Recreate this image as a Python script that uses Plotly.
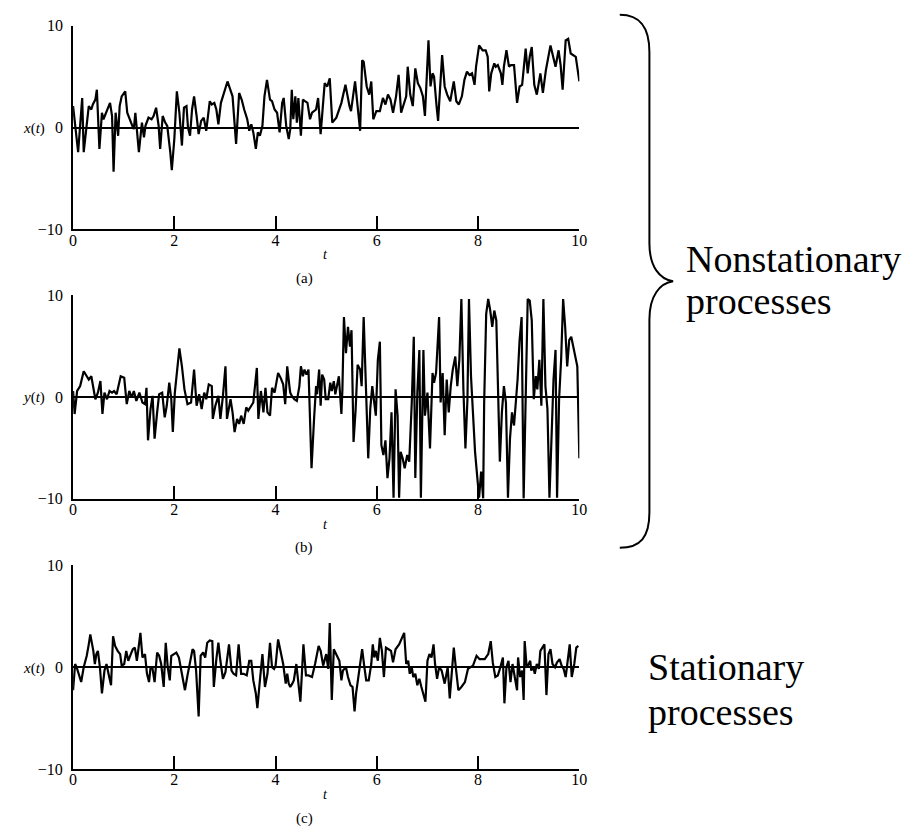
import plotly.graph_objects as go

# ---------------- data ----------------
# (a) nonstationary in the mean: x(t)
t_a = [0.00, 0.10, 0.18, 0.21, 0.26, 0.31, 0.36, 0.39, 0.44, 0.47, 0.52, 0.57, 0.60, 0.64, 0.68,
       0.73, 0.77, 0.80, 0.84, 0.89, 0.92, 0.96, 1.03, 1.07, 1.17, 1.20, 1.23, 1.30, 1.36, 1.40,
       1.43, 1.49, 1.55, 1.59, 1.64, 1.69, 1.72, 1.77, 1.82, 1.86, 1.92, 1.95, 2.00, 2.05, 2.10,
       2.15, 2.19, 2.24, 2.27, 2.31, 2.35, 2.39, 2.44, 2.48, 2.53, 2.58, 2.63, 2.70, 2.74, 2.79,
       2.83, 2.87, 2.92, 2.99, 3.05, 3.15, 3.22, 3.28, 3.33, 3.38, 3.44, 3.48, 3.52, 3.56, 3.61,
       3.65, 3.69, 3.74, 3.78, 3.83, 3.89, 3.93, 3.98, 4.03, 4.08, 4.13, 4.16, 4.21, 4.26, 4.29,
       4.32, 4.35, 4.39, 4.42, 4.45, 4.50, 4.54, 4.58, 4.63, 4.68, 4.72, 4.80, 4.84, 4.89, 4.94,
       4.97, 5.02, 5.07, 5.12, 5.20, 5.30, 5.38, 5.46, 5.49, 5.57, 5.62, 5.67, 5.71, 5.74, 5.80,
       5.85, 5.89, 5.93, 5.99, 6.06, 6.12, 6.17, 6.22, 6.27, 6.32, 6.38, 6.43, 6.48, 6.53, 6.58,
       6.61, 6.66, 6.71, 6.76, 6.81, 6.86, 6.91, 6.95, 7.02, 7.06, 7.10, 7.13, 7.18, 7.21, 7.29,
       7.34, 7.39, 7.45, 7.52, 7.57, 7.62, 7.68, 7.73, 7.78, 7.83, 7.88, 7.93, 7.96, 8.02, 8.09,
       8.15, 8.19, 8.22, 8.26, 8.32, 8.35, 8.39, 8.45, 8.48, 8.51, 8.56, 8.61, 8.65, 8.71, 8.77,
       8.82, 8.87, 8.94, 8.98, 9.02, 9.06, 9.11, 9.16, 9.23, 9.28, 9.34, 9.43, 9.49, 9.53, 9.59,
       9.63, 9.67, 9.73, 9.78, 9.83, 9.93, 10.00]
x_a = [2.10, -2.42, 2.90, -2.42, -0.16, 2.10, 1.77, 2.26, 2.74, 3.71, -2.10, 1.45, 0.81, 1.29, 1.77,
       2.42, 1.13, -4.35, 1.45, -0.81, 2.10, 3.06, 3.55, 1.45, 0.16, -0.16, 1.45, -2.42, 0.48, -0.97,
       0.16, 0.97, 0.81, 1.13, 1.94, 0.16, -2.10, 1.13, 0.48, 0.16, -2.42, -4.19, -1.13, 3.55, 1.45,
       -1.77, 1.94, 2.10, 0.00, -0.81, 1.77, 3.06, 1.13, -0.65, 0.65, 0.97, -0.32, 2.58, 2.26, 2.42,
       1.77, 0.32, 2.42, 3.55, 4.52, 3.06, -1.61, 3.39, 2.74, 1.77, 0.81, -0.32, 0.32, -0.48, -2.10,
       -0.48, -0.81, 0.16, 3.06, 4.68, 2.74, 2.58, 1.77, 1.45, -0.48, 2.42, 2.90, 0.16, -1.13, -0.16,
       3.71, 0.81, 3.06, 0.48, 2.90, -0.81, 2.74, 2.58, 2.42, 0.81, 1.45, 1.77, 2.90, -0.65, 2.42,
       4.35, 4.03, 4.84, 0.48, 0.97, 2.42, 4.19, 2.10, 1.61, 4.52, 2.10, -0.32, 6.61, 6.45, 4.03,
       3.23, 4.52, 0.81, 1.61, 1.61, 2.90, 2.26, 3.23, 2.74, 1.45, 3.06, 5.16, 1.45, 2.26, 3.06,
       5.97, 3.23, 2.10, 5.81, 4.35, 3.87, 3.06, 1.13, 8.55, 4.03, 5.32, 5.00, 2.10, 0.65, 7.10,
       4.03, 3.23, 2.58, 4.52, 2.58, 2.26, 3.06, 4.68, 5.48, 5.16, 5.32, 4.19, 5.97, 8.06, 7.58,
       7.58, 6.94, 3.55, 5.32, 6.29, 5.97, 6.13, 5.32, 4.19, 5.97, 7.58, 5.97, 6.13, 6.13, 2.42,
       4.03, 4.19, 7.74, 5.32, 6.94, 7.90, 4.19, 3.23, 5.32, 3.39, 5.65, 8.06, 6.94, 5.97, 7.58,
       6.13, 3.71, 8.55, 8.71, 7.26, 6.94, 4.52]

# (b) nonstationary in the variance: y(t)
t_b = [0.00, 0.03, 0.08, 0.14, 0.21, 0.27, 0.31, 0.36, 0.40, 0.44, 0.49, 0.54, 0.58, 0.62, 0.67,
       0.72, 0.77, 0.81, 0.86, 0.94, 1.01, 1.06, 1.11, 1.16, 1.20, 1.25, 1.31, 1.37, 1.42, 1.45,
       1.48, 1.53, 1.57, 1.61, 1.66, 1.70, 1.76, 1.81, 1.85, 1.90, 1.94, 1.97, 2.01, 2.10, 2.15,
       2.20, 2.26, 2.33, 2.39, 2.44, 2.49, 2.54, 2.59, 2.63, 2.68, 2.74, 2.76, 2.81, 2.87, 2.91,
       2.96, 3.01, 3.04, 3.11, 3.15, 3.19, 3.24, 3.28, 3.32, 3.37, 3.42, 3.46, 3.52, 3.56, 3.63,
       3.66, 3.71, 3.76, 3.80, 3.84, 3.89, 3.93, 3.98, 4.05, 4.10, 4.15, 4.19, 4.23, 4.28, 4.29,
       4.32, 4.37, 4.42, 4.47, 4.50, 4.54, 4.57, 4.61, 4.65, 4.68, 4.71, 4.76, 4.80, 4.82, 4.86,
       4.89, 4.92, 4.96, 4.99, 5.04, 5.08, 5.11, 5.15, 5.18, 5.22, 5.25, 5.30, 5.32, 5.35, 5.39,
       5.43, 5.47, 5.50, 5.54, 5.58, 5.62, 5.67, 5.70, 5.74, 5.78, 5.83, 5.87, 5.91, 5.94, 5.98,
       6.02, 6.06, 6.09, 6.13, 6.17, 6.21, 6.25, 6.29, 6.33, 6.37, 6.41, 6.44, 6.47, 6.51, 6.55,
       6.60, 6.64, 6.69, 6.73, 6.76, 6.80, 6.84, 6.87, 6.92, 6.95, 7.00, 7.05, 7.10, 7.13, 7.17,
       7.23, 7.26, 7.30, 7.34, 7.38, 7.42, 7.46, 7.50, 7.55, 7.59, 7.63, 7.67, 7.71, 7.75, 7.79,
       7.82, 7.86, 7.90, 7.94, 7.98, 8.02, 8.06, 8.10, 8.12, 8.16, 8.20, 8.24, 8.28, 8.32, 8.36,
       8.40, 8.43, 8.47, 8.51, 8.55, 8.59, 8.63, 8.67, 8.71, 8.75, 8.78, 8.82, 8.86, 8.90, 8.94,
       8.98, 9.02, 9.06, 9.10, 9.14, 9.17, 9.21, 9.25, 9.29, 9.33, 9.37, 9.41, 9.45, 9.49, 9.53,
       9.56, 9.60, 9.64, 9.68, 9.72, 9.76, 9.80, 9.84, 9.88, 9.92, 9.96, 10.00]
y_b = [0.58, -1.68, 0.58, 1.06, 2.52, 2.03, 1.71, 2.03, 1.06, -0.23, 0.42, 1.55, -1.68, 0.42, -0.23,
       0.58, 0.42, 0.58, 0.26, 2.03, 1.87, -0.71, 0.58, -0.06, 0.58, -0.39, 0.42, -0.55, -0.71, 0.90,
       -4.26, -1.19, 0.10, -4.10, -1.52, 0.26, 0.42, -2.00, -0.87, 1.39, -0.23, -3.45, 0.42, 4.77, 3.00,
       0.74, -0.71, -0.55, 2.68, -0.87, 0.26, -1.19, 0.42, -0.23, 1.23, 1.06, -2.16, -0.87, 0.10, -2.16,
       0.10, 3.00, -2.16, -0.23, -1.52, -3.45, -2.16, -2.65, -1.84, -2.65, -1.03, -1.35, -0.87, -0.55, 2.84,
       -2.16, 0.58, -1.52, 0.90, -1.52, -1.84, 0.90, 0.42, 2.35, 1.87, 1.23, -0.71, 3.00, 0.74, 0.42,
       0.10, -0.23, -0.39, 1.06, 3.00, 2.03, 2.68, 2.19, 2.68, -2.81, -7.00, -2.16, 1.06, 0.26, 2.68,
       -0.87, 2.19, 1.71, -0.23, -0.23, 1.39, 0.58, 1.55, 0.26, 1.23, 2.03, -1.68, 0.74, 7.84, 4.29,
       6.87, 4.94, 6.55, -4.42, -1.35, 3.16, 2.68, 1.06, 7.84, 1.06, -6.03, -1.19, 1.06, -0.23, -1.84,
       3.65, 5.42, -4.74, -5.71, -4.26, -7.97, -6.03, -1.52, -9.90, 0.74, -1.84, -9.90, -5.39, -6.03, -7.00,
       -5.71, -6.35, -0.55, 5.90, -7.97, 0.42, 4.61, -9.90, 4.61, -1.84, 0.42, -5.06, 2.35, 1.39, 2.35,
       7.84, -0.55, 2.35, -3.77, 1.71, -1.52, 1.06, 2.68, 3.97, 1.06, 3.65, 9.61, 0.74, -5.06, -0.23,
       9.61, 2.03, -2.16, -5.39, -7.65, -9.90, -7.32, -9.97, -0.55, 8.16, 9.61, 8.48, 6.87, 8.48, 7.52,
       -0.87, -6.35, -1.52, 1.06, -0.55, -9.90, -4.10, -1.52, -2.81, -0.55, 1.71, 5.58, 7.84, -9.97, 0.42,
       9.61, 9.45, 7.52, -0.23, 2.03, 0.74, 3.65, -0.87, 9.61, 1.06, -1.19, -9.90, -2.81, 1.71, 4.61,
       -9.90, -0.23, 3.65, 9.61, 6.87, 3.00, 5.58, 5.90, 4.94, 4.29, 3.00, -6.03]

# (c) stationary process: x(t)
t_c = [0.00, 0.04, 0.07, 0.12, 0.16, 0.21, 0.27, 0.31, 0.34, 0.40, 0.43, 0.46, 0.49, 0.53, 0.57,
       0.62, 0.66, 0.70, 0.75, 0.79, 0.83, 0.88, 0.93, 0.96, 1.01, 1.05, 1.09, 1.14, 1.18, 1.22,
       1.26, 1.29, 1.33, 1.37, 1.42, 1.46, 1.50, 1.53, 1.57, 1.61, 1.66, 1.70, 1.74, 1.79, 1.83,
       1.87, 1.91, 1.94, 1.98, 2.04, 2.09, 2.13, 2.17, 2.21, 2.26, 2.31, 2.36, 2.39, 2.43, 2.48,
       2.52, 2.57, 2.61, 2.65, 2.70, 2.75, 2.78, 2.83, 2.87, 2.91, 2.96, 3.01, 3.08, 3.13, 3.17,
       3.22, 3.27, 3.32, 3.37, 3.43, 3.48, 3.52, 3.56, 3.61, 3.64, 3.69, 3.74, 3.79, 3.84, 3.89,
       3.93, 3.97, 4.00, 4.05, 4.10, 4.15, 4.20, 4.23, 4.26, 4.29, 4.33, 4.36, 4.41, 4.46, 4.49,
       4.55, 4.60, 4.65, 4.72, 4.78, 4.85, 4.89, 4.94, 5.00, 5.04, 5.07, 5.11, 5.15, 5.20, 5.26,
       5.30, 5.33, 5.39, 5.43, 5.48, 5.52, 5.56, 5.59, 5.63, 5.67, 5.71, 5.75, 5.79, 5.84, 5.89,
       5.92, 5.95, 5.98, 6.02, 6.06, 6.10, 6.14, 6.18, 6.23, 6.28, 6.32, 6.37, 6.44, 6.50, 6.54,
       6.58, 6.62, 6.65, 6.69, 6.72, 6.76, 6.80, 6.84, 6.88, 6.92, 6.96, 7.00, 7.04, 7.08, 7.12,
       7.15, 7.19, 7.23, 7.28, 7.34, 7.40, 7.44, 7.48, 7.52, 7.56, 7.61, 7.67, 7.74, 7.80, 7.86,
       7.90, 7.97, 8.03, 8.13, 8.20, 8.25, 8.29, 8.34, 8.39, 8.44, 8.49, 8.52, 8.56, 8.60, 8.64,
       8.68, 8.73, 8.77, 8.79, 8.83, 8.87, 8.90, 8.92, 8.96, 9.00, 9.03, 9.05, 9.09, 9.12, 9.16,
       9.20, 9.23, 9.27, 9.31, 9.35, 9.39, 9.43, 9.47, 9.52, 9.56, 9.61, 9.65, 9.69, 9.73, 9.77,
       9.81, 9.85, 9.90, 9.94, 9.98]
x_c = [-2.25, 0.32, 0.00, -0.80, -1.45, 0.00, 1.13, 2.25, 3.22, 1.61, 0.32, 1.29, 1.61, 0.00, -2.57,
       -0.32, 0.32, -0.64, -1.77, 3.05, 2.09, 1.61, 1.29, 0.16, 0.32, 1.61, 0.64, 1.29, 1.77, 1.93,
       0.64, 1.77, 3.38, 0.96, 1.29, -0.64, -1.45, 0.00, -0.16, -1.45, 1.45, 1.13, 0.32, -1.93, 2.41,
       0.00, -1.29, 1.13, 1.29, 1.45, 0.96, 0.00, -0.96, -2.25, -0.80, 0.32, 1.77, 1.61, -0.32, -4.82,
       1.13, 1.45, 0.96, 2.41, 2.64, 2.57, -1.93, 0.80, 2.41, 0.64, -1.13, -0.48, 2.25, -0.32, -0.64,
       -0.80, 2.25, -0.64, -0.64, -0.80, 0.64, 0.64, -1.29, -2.57, -4.02, -1.29, 1.29, -1.93, -0.64, 2.41,
       0.00, -0.16, 0.16, 2.73, 1.61, 0.32, -1.61, -0.64, -1.61, -1.93, -1.61, -1.29, 0.32, -2.25, -3.38,
       2.25, -0.80, -0.80, -0.96, 0.32, 2.09, 1.61, 0.16, 1.29, -0.16, 4.34, -3.22, 1.77, 1.29, 0.64,
       -1.29, -0.32, 0.00, -0.96, -1.77, -1.93, -4.34, -2.57, -1.13, 0.32, 1.77, 0.16, -1.29, -1.29, 0.32,
       2.25, 0.96, 1.61, 0.64, 2.89, 1.61, -0.96, 1.93, 1.77, 1.61, 0.48, 1.77, 2.25, 2.89, 3.38,
       0.32, 0.64, -0.64, 0.00, -0.96, -0.64, -1.77, -1.13, -1.93, -2.57, -3.38, 0.64, 1.29, 0.96, 2.25,
       0.32, -1.13, 0.00, -0.32, -1.61, 0.00, -3.05, -0.32, 1.93, 0.00, -2.25, -1.93, -1.45, -0.16, 0.00,
       0.16, 1.13, 0.80, 0.80, 1.29, 2.57, 0.48, -0.96, -0.80, 0.00, 0.96, -3.54, 0.00, 0.64, -1.45,
       0.32, -1.29, -2.25, 0.96, -0.96, -0.32, -3.22, 2.57, 0.00, 0.32, 0.64, -0.32, 0.00, -0.64, 0.32,
       -0.16, 1.61, 1.93, 2.25, -2.73, 1.29, 1.77, 0.32, 0.00, 0.48, 0.80, 0.16, -0.16, -0.96, 0.64,
       2.25, -0.96, 0.32, 1.93, 2.09]

t_ticks = [0, 2, 4, 6, 8, 10]
v_ticks = [-10, 0, 10]
panel_series = [(t_a, x_a), (t_b, y_b), (t_c, x_c)]
y_labels = ["<i>x</i>(<i>t</i>)", "<i>y</i>(<i>t</i>)", "<i>x</i>(<i>t</i>)"]
captions = ["(a)", "(b)", "(c)"]

# ---------------- layout helpers ----------------
W, H = 913, 833
SERIF = "Liberation Serif"


def px(x):
    return x / W


def py(y):
    return 1 - y / H


# pixel frame of each panel: left, right, top (value 10), bottom (value -10)
X_LEFT, X_RIGHT = 70, 583
panel_rows = [(18, 226), (293, 501), (569, 777)]

fig = go.Figure()
annotations = []


def label(text, x, y, size, xanchor="center"):
    return dict(text=text, x=px(x), y=py(y), xref="paper", yref="paper",
                xanchor=xanchor, yanchor="middle", showarrow=False,
                font=dict(family=SERIF, size=size, color="black"))


for i, ((tt, vv), (top, bot)) in enumerate(zip(panel_series, panel_rows), start=1):
    xa = "x" if i == 1 else f"x{i}"
    ya = "y" if i == 1 else f"y{i}"
    fig.add_trace(go.Scatter(x=tt, y=vv, mode="lines", xaxis=xa, yaxis=ya,
                             line=dict(color="black", width=2.2), hoverinfo="skip"))
    fig.layout[f"xaxis{'' if i == 1 else i}"] = dict(
        domain=[px(X_LEFT), px(X_RIGHT)], anchor=ya, range=[0, 10],
        showline=True, linecolor="black", linewidth=2,
        ticks="inside", ticklen=13, tickwidth=1.5, tickcolor="black",
        tickvals=t_ticks, showgrid=False, zeroline=False,
        tickfont=dict(family=SERIF, size=16, color="black"),
        ticklabelstandoff=-5,
    )
    fig.layout[f"yaxis{'' if i == 1 else i}"] = dict(
        domain=[py(bot), py(top)], anchor=xa, range=[-10, 10],
        showline=True, linecolor="black", linewidth=2,
        ticks="inside", ticklen=13, tickwidth=1.5, tickcolor="black",
        tickvals=v_ticks, showgrid=False,
        zeroline=True, zerolinecolor="black", zerolinewidth=2,
        tickfont=dict(family=SERIF, size=16, color="black"),
        ticklabelstandoff=5,
    )
    zero_y = (top + bot) / 2
    annotations.append(label(y_labels[i - 1], 30, zero_y + 1, 15))
    annotations.append(label("<i>t</i>", 326, bot + 26, 14))
    annotations.append(label(captions[i - 1], 304, bot + 50, 15))

# curly brace grouping the two nonstationary panels
pts = [(624, 7), (645, 7), (654, 20), (654, 45), (654, 240), (654, 265), (665, 277), (678, 279),
       (665, 281), (654, 293), (654, 318), (654, 515), (654, 540), (645, 551), (624, 551)]
P = [f"{px(x):.5f},{py(y):.5f}" for x, y in pts]
brace = (f"M {P[0]} C {P[1]} {P[2]} {P[3]} L {P[4]} C {P[5]} {P[6]} {P[7]} "
         f"C {P[8]} {P[9]} {P[10]} L {P[11]} C {P[12]} {P[13]} {P[14]}")
fig.add_shape(type="path", path=brace, xref="paper", yref="paper",
              line=dict(color="black", width=2))

for text, x, y in [("Nonstationary", 689, 256), ("processes", 689, 299),
                   ("Stationary", 651, 673), ("processes", 651, 719)]:
    annotations.append(label(text, x, y, 38, xanchor="left"))

fig.update_layout(
    width=W, height=H, margin=dict(l=0, r=0, t=0, b=0),
    paper_bgcolor="white", plot_bgcolor="white", showlegend=False,
    annotations=annotations,
)

fig.write_html("out.html")
